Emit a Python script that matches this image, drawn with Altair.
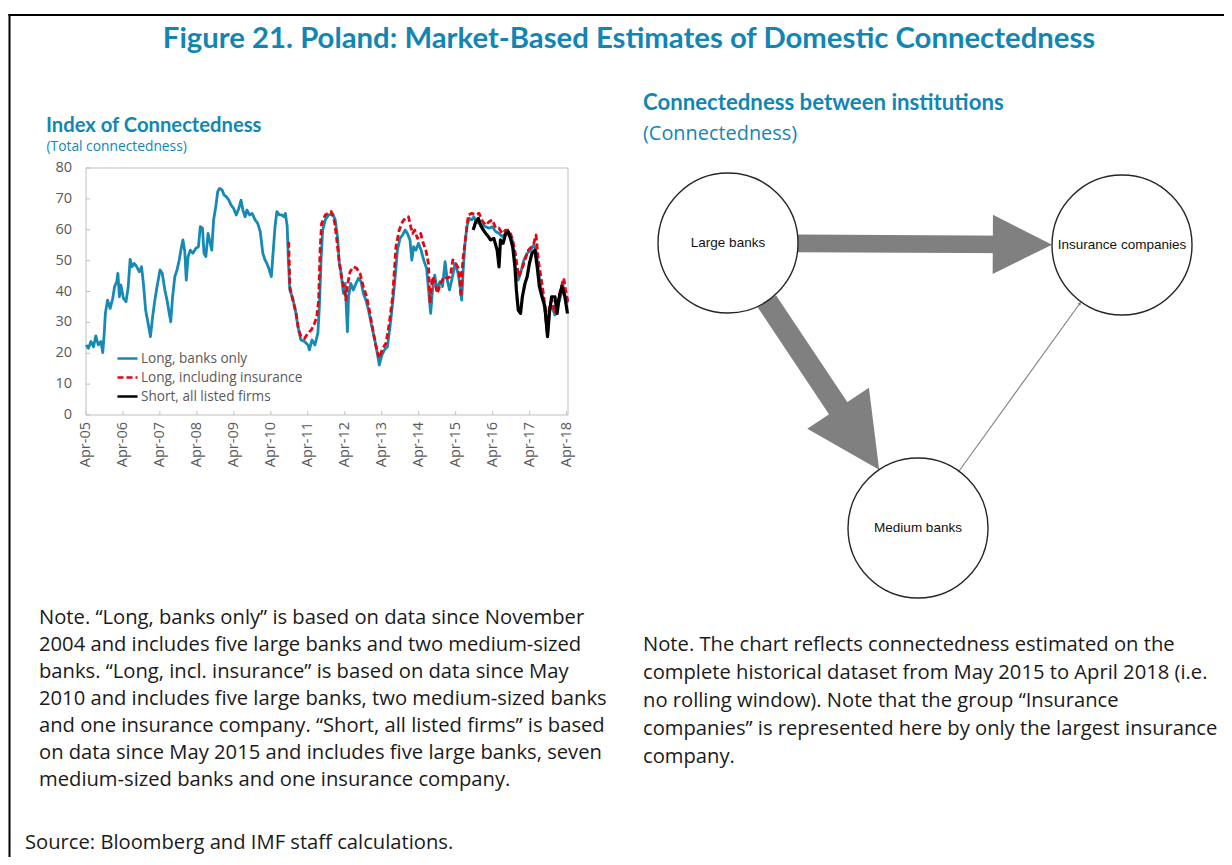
import math
import altair as alt
import pandas as pd

# ---------------- data ----------------
series_names = ["Long, banks only", "Long, including insurance", "Short, all listed firms"]

blue_t = [2005.25, 2005.31, 2005.38, 2005.45, 2005.51, 2005.58, 2005.65, 2005.70, 2005.74, 2005.77,
          2005.83, 2005.90, 2005.97, 2006.02, 2006.08, 2006.11, 2006.15, 2006.19, 2006.26, 2006.33,
          2006.39, 2006.44, 2006.49, 2006.55, 2006.62, 2006.69, 2006.75, 2006.80, 2006.86, 2006.91,
          2006.96, 2006.99, 2007.05, 2007.11, 2007.17, 2007.25, 2007.31, 2007.38, 2007.44, 2007.50,
          2007.54, 2007.59, 2007.65, 2007.71, 2007.77, 2007.83, 2007.87, 2007.92, 2007.96, 2008.01,
          2008.07, 2008.14, 2008.22, 2008.29, 2008.34, 2008.40, 2008.44, 2008.49, 2008.55, 2008.59,
          2008.65, 2008.70, 2008.76, 2008.81, 2008.86, 2008.93, 2008.98, 2009.04, 2009.11, 2009.17,
          2009.24, 2009.31, 2009.38, 2009.44, 2009.49, 2009.55, 2009.60, 2009.67, 2009.74, 2009.82,
          2009.89, 2009.96, 2010.03, 2010.09, 2010.14, 2010.19, 2010.26, 2010.30, 2010.36, 2010.41,
          2010.48, 2010.54, 2010.60, 2010.64, 2010.69, 2010.72, 2010.76, 2010.84, 2010.91, 2010.98,
          2011.06, 2011.16, 2011.25, 2011.29, 2011.36, 2011.44, 2011.52, 2011.56, 2011.61, 2011.65,
          2011.72, 2011.81,
          2011.92, 2011.99, 2012.06, 2012.10, 2012.15, 2012.21, 2012.26, 2012.32, 2012.35, 2012.41,
          2012.48, 2012.55, 2012.62, 2012.69, 2012.75, 2012.82, 2012.89, 2012.96, 2013.04, 2013.11,
          2013.18, 2013.25, 2013.32, 2013.40, 2013.47, 2013.54, 2013.61, 2013.67, 2013.74, 2013.81,
          2013.88, 2013.94, 2014.01, 2014.06, 2014.11, 2014.17, 2014.24, 2014.31, 2014.38, 2014.46,
          2014.53, 2014.57, 2014.62, 2014.68, 2014.74, 2014.82, 2014.89, 2014.96, 2015.02, 2015.08,
          2015.16, 2015.23, 2015.30, 2015.35, 2015.41, 2015.45, 2015.50, 2015.55, 2015.61, 2015.68,
          2015.74, 2015.80, 2015.88, 2015.97, 2016.06, 2016.15, 2016.24, 2016.33, 2016.42, 2016.51,
          2016.60, 2016.69, 2016.78, 2016.86, 2016.94, 2017.00, 2017.09, 2017.18, 2017.27, 2017.36,
          2017.42, 2017.49, 2017.58, 2017.66, 2017.73, 2017.78, 2017.85, 2017.93, 2018.00, 2018.08,
          2018.14, 2018.20, 2018.26]
blue_v = [22.7, 21.6, 23.8, 22.1, 25.6, 22.7, 23.8, 20.2, 26.5, 32.9,
          37.2, 34.5, 37.8, 41.6, 43.2, 45.9, 38.3, 42.1, 37.8, 36.7,
          41.6, 50.4, 48.0, 49.1, 48.0, 46.4, 48.0, 42.6, 34.0, 30.8,
          27.5, 25.4, 31.8, 37.2, 41.6, 47.0, 45.9, 40.5, 37.2, 32.9,
          30.2, 38.3, 44.8, 47.0, 50.2, 54.5, 56.7, 52.9, 43.7, 51.3,
          53.4, 52.4, 54.0, 54.5, 61.0, 60.5, 52.4, 51.3, 58.8, 56.7,
          53.4, 63.2, 67.5, 72.3, 73.4, 72.9, 71.3, 70.7, 69.6, 68.0,
          66.9, 64.8, 66.9, 69.6, 66.4, 64.2, 66.4, 64.8, 65.3, 63.2,
          62.1, 59.4, 52.4, 50.2, 49.1, 47.5, 44.8, 51.3, 61.0, 65.9,
          64.8, 64.8, 64.2, 65.3, 61.0, 50.2, 40.5, 37.8, 34.0, 28.6,
          24.3, 23.8, 22.7, 21.1, 24.3, 22.7, 26.5, 35.1, 51.3, 59.9,
          63.2, 64.8,
          65.1, 63.2, 56.7, 49.1, 45.9, 39.4, 42.6, 27.0, 38.3, 42.6,
          40.5, 42.6, 44.3, 43.2, 39.4, 37.2, 34.0, 29.7, 25.4, 21.1,
          16.2, 19.4, 21.1, 22.1, 28.6, 36.2, 44.8, 53.4, 57.2, 58.3,
          59.9, 58.8, 56.7, 50.2, 54.5, 53.4, 55.6, 53.4, 50.2, 47.5,
          38.3, 32.9, 40.5, 45.3, 40.5, 43.2, 41.6, 49.7, 43.7, 40.5,
          44.8, 49.1, 46.4, 43.2, 37.2, 47.0, 55.6, 61.0, 63.7, 63.2,
          64.2, 62.6, 62.1, 61.5, 61.0, 60.5, 61.0, 59.4, 58.8, 57.8,
          58.8, 58.3, 56.7, 48.0, 43.7, 45.9, 50.2, 52.4, 53.4, 55.1,
          53.4, 45.9, 39.4, 34.0, 25.4, 34.0, 35.1, 32.4, 35.1, 38.3,
          42.6, 38.9, 36.2]

red_t = [2010.73, 2010.76, 2010.84, 2010.93, 2011.00, 2011.06, 2011.16, 2011.25, 2011.34, 2011.43,
         2011.49, 2011.54, 2011.58, 2011.62, 2011.72, 2011.88, 2011.97, 2012.03, 2012.08, 2012.17,
         2012.24, 2012.28, 2012.32, 2012.39, 2012.48, 2012.57, 2012.66, 2012.75, 2012.84, 2012.93,
         2013.02, 2013.11, 2013.18, 2013.27, 2013.36, 2013.45, 2013.54, 2013.63, 2013.72, 2013.81,
         2013.88, 2013.97, 2014.03, 2014.08, 2014.14, 2014.21, 2014.30, 2014.37, 2014.44, 2014.51,
         2014.55, 2014.62, 2014.68, 2014.75, 2014.84, 2014.93, 2015.02, 2015.10, 2015.17, 2015.25,
         2015.34, 2015.39, 2015.44, 2015.52, 2015.59, 2015.68, 2015.79, 2015.88, 2015.98, 2016.06,
         2016.15, 2016.24, 2016.33, 2016.42, 2016.51, 2016.60, 2016.69, 2016.78, 2016.86, 2016.95,
         2017.03, 2017.12, 2017.21, 2017.30, 2017.36, 2017.42, 2017.48, 2017.55, 2017.63, 2017.72,
         2017.78, 2017.85, 2017.93, 2018.00, 2018.08, 2018.17, 2018.22, 2018.28]
red_v = [56.1, 41.6, 37.2, 32.9, 27.5, 25.5, 24.8, 26.5, 27.5, 29.7,
         31.8, 37.2, 53.4, 62.0, 64.8, 65.9, 62.6, 57.0, 51.3, 43.7,
         40.5, 37.2, 42.0, 46.4, 48.0, 47.5, 45.9, 41.6, 38.3, 32.9,
         26.5, 21.1, 18.4, 21.6, 23.2, 29.7, 38.3, 54.5, 59.9, 62.6,
         63.7, 64.2, 61.0, 58.8, 59.9, 57.2, 58.8, 55.6, 53.4, 49.1,
         36.2, 44.8, 43.2, 39.4, 42.6, 44.8, 44.3, 44.8, 50.2, 49.1,
         47.0, 38.3, 50.2, 57.8, 64.8, 65.3, 64.8, 65.3, 62.6, 61.5,
         62.6, 63.2, 60.5, 60.5, 58.8, 59.9, 59.9, 57.2, 52.4, 44.8,
         47.0, 50.2, 53.4, 54.5, 55.6, 58.3, 50.2, 44.8, 38.3, 27.0,
         35.1, 37.2, 32.9, 36.2, 40.5, 44.3, 40.5, 36.7]

black_t = [2015.72, 2015.79, 2015.86, 2015.92, 2015.99, 2016.06, 2016.13, 2016.19, 2016.28, 2016.37,
           2016.42, 2016.46, 2016.53, 2016.60, 2016.67, 2016.73, 2016.79, 2016.85, 2016.89, 2016.94,
           2017.00, 2017.05, 2017.12, 2017.18, 2017.24, 2017.31, 2017.39, 2017.45, 2017.51, 2017.58,
           2017.66, 2017.73, 2017.78, 2017.84, 2017.93, 2017.99, 2018.05, 2018.12, 2018.20, 2018.27]
black_v = [59.9, 62.6, 63.7, 61.5, 60.0, 58.8, 57.8, 56.7, 57.2, 53.4,
           48.0, 56.7, 55.6, 58.8, 59.4, 57.2, 54.5, 48.0, 40.5, 34.0,
           32.9, 38.3, 42.6, 44.8, 49.1, 52.4, 53.4, 48.0, 41.6, 38.3,
           35.1, 25.4, 32.9, 38.3, 38.3, 32.9, 38.3, 41.6, 38.3, 32.9]

y_tick_values = [0, 10, 20, 30, 40, 50, 60, 70, 80]
x_tick_years = [2005, 2006, 2007, 2008, 2009, 2010, 2011, 2012, 2013, 2014, 2015, 2016, 2017, 2018]

node_names = ["Large banks", "Insurance companies", "Medium banks"]
node_x = [0, 394, 190]
node_y = [0, 2, 285]
edge_from = ["Large banks", "Large banks", "Medium banks"]
edge_to = ["Insurance companies", "Medium banks", "Insurance companies"]
edge_weight = [0.8, 1.0, 0.05]

fig_title = "Figure 21. Poland: Market-Based Estimates of Domestic Connectedness"
left_title = "Index of Connectedness"
left_subtitle = "(Total connectedness)"
right_title = "Connectedness between institutions"
right_subtitle = "(Connectedness)"
left_note = [
    "Note. \u201cLong, banks only\u201d is based on data since November",
    "2004 and includes five large banks and two medium-sized",
    "banks. \u201cLong, incl. insurance\u201d is based on data since May",
    "2010 and includes five large banks, two medium-sized banks",
    "and one insurance company. \u201cShort, all listed firms\u201d is based",
    "on data since May 2015 and includes five large banks, seven",
    "medium-sized banks and one insurance company.",
]
right_note = [
    "Note. The chart reflects connectedness estimated on the",
    "complete historical dataset from May 2015 to April 2018 (i.e.",
    "no rolling window). Note that the group \u201cInsurance",
    "companies\u201d is represented here by only the largest insurance",
    "company.",
]
source_text = "Source: Bloomberg and IMF staff calculations."

# ---------------- styles / layout ----------------
W, H = 1216, 849
TITLE_BLUE = "#1186B5"
LINE_BLUE = "#1689B4"
RED = "#E30613"
GRAY_TXT = "#595959"
AXIS_GRAY = "#BFBFBF"
TXT = "#1A1A1A"
HEAD_FONT = "Lato"
BODY_FONT = "Open Sans"
BODY_SIZE = 20.2
TICK_SIZE = 14.5

NODE_R = 70
HEAD_PX = 74
SHAFT_PX = 22


def to_iso(t):
    y = int(t)
    d = (t - y) * 365.25
    return (pd.Timestamp(year=y, month=1, day=1) + pd.Timedelta(days=d)).strftime("%Y-%m-%dT%H:%M:%S")


rows = []
for name, ts, vs in [(series_names[0], blue_t, blue_v),
                     (series_names[1], red_t, red_v),
                     (series_names[2], black_t, black_v)]:
    for t, v in zip(ts, vs):
        rows.append({"date": to_iso(t), "value": v, "series": name})
ts_df = pd.DataFrame(rows)

X0 = "2005-04-01T00:00:00"
X1 = "2018-04-15T00:00:00"
x_scale = alt.Scale(domain=[alt.DateTime(year=2005, month=4, date=1),
                            alt.DateTime(year=2018, month=4, date=15)], range=[78, 560])
y_scale = alt.Scale(domain=[0, 80], range=[407, 160], nice=False, zero=False)

legend = alt.Legend(orient="none", legendX=108, legendY=339, title=None, symbolType="stroke",
                    symbolSize=400, symbolStrokeWidth=2.6, labelFont=BODY_FONT, labelFontSize=13.6,
                    labelColor=GRAY_TXT, labelOffset=2, labelLimit=400, rowPadding=0, padding=0)
color_scale = alt.Scale(domain=series_names, range=[LINE_BLUE, RED, "#000000"])
dash_scale = alt.Scale(domain=series_names, range=[[1, 0], [6, 3], [1, 0]])


def ts_line(name, width):
    return alt.Chart(ts_df).transform_filter(alt.datum.series == name).mark_line(
        strokeWidth=width, strokeJoin="round").encode(
        x=alt.X("date:T", scale=x_scale, axis=None),
        y=alt.Y("value:Q", scale=y_scale, axis=None),
        color=alt.Color("series:N", scale=color_scale, legend=legend),
        strokeDash=alt.StrokeDash("series:N", scale=dash_scale, legend=legend),
    )


box_df = pd.DataFrame({"x0": [X0], "x1": [X1], "y0": [0], "y1": [80]})
box = alt.Chart(box_df).mark_rect(fillOpacity=0, stroke=AXIS_GRAY, strokeWidth=1).encode(
    x=alt.X("x0:T", scale=x_scale, axis=None), x2="x1:T",
    y=alt.Y("y0:Q", scale=y_scale, axis=None), y2="y1:Q")

ytick_df = pd.DataFrame({"v": y_tick_values, "d": [X0] * len(y_tick_values)})
yticks = alt.Chart(ytick_df).mark_tick(orient="horizontal", size=4, thickness=1, xOffset=2,
                                       color=AXIS_GRAY, opacity=1).encode(
    x=alt.X("d:T", scale=x_scale, axis=None), y=alt.Y("v:Q", scale=y_scale, axis=None))
ylabels = alt.Chart(ytick_df).mark_text(align="right", baseline="middle", xOffset=-14,
                                        font=BODY_FONT, fontSize=TICK_SIZE, color=GRAY_TXT).encode(
    x=alt.X("d:T", scale=x_scale, axis=None), y=alt.Y("v:Q", scale=y_scale, axis=None),
    text=alt.Text("v:Q"))

xtick_df = pd.DataFrame({"d": ["%d-04-01T00:00:00" % y for y in x_tick_years],
                         "v": [0] * len(x_tick_years)})
xticks = alt.Chart(xtick_df).mark_tick(orient="vertical", size=4, thickness=1, yOffset=-2,
                                       color=AXIS_GRAY, opacity=1).encode(
    x=alt.X("d:T", scale=x_scale, axis=None), y=alt.Y("v:Q", scale=y_scale, axis=None))
xlabels = alt.Chart(xtick_df).mark_text(angle=270, align="right", baseline="middle", yOffset=7,
                                        font=BODY_FONT, fontSize=TICK_SIZE, color=GRAY_TXT).encode(
    x=alt.X("d:T", scale=x_scale, axis=None), y=alt.Y("v:Q", scale=y_scale, axis=None),
    text=alt.Text("d:T", format="%b-%y"))

ts_layer = alt.layer(box, yticks, xticks, ylabels, xlabels,
                     ts_line(series_names[0], 2.8),
                     ts_line(series_names[1], 2.8),
                     ts_line(series_names[2], 3.2))

# ---------------- network ----------------
pos = {n: (x, y) for n, x, y in zip(node_names, node_x, node_y)}
erows = []
for f, t, w in zip(edge_from, edge_to, edge_weight):
    (x1, y1), (x2, y2) = pos[f], pos[t]
    d = math.hypot(x2 - x1, y2 - y1)
    ux, uy = (x2 - x1) / d, (y2 - y1) / d
    sx, sy = x1 + NODE_R * ux, y1 + NODE_R * uy
    tx, ty = x2 - NODE_R * ux, y2 - NODE_R * uy
    L = HEAD_PX * w
    hx, hy = tx - L / 2 * ux, ty - L / 2 * uy
    ang = (math.degrees(math.atan2(ux, -uy)) + 360) % 360
    erows.append({"sx": sx, "sy": sy, "hx": hx, "hy": hy, "angle": ang, "weight": w})
edges_df = pd.DataFrame(erows)
nodes_df = pd.DataFrame({"name": node_names, "nx": node_x, "ny": node_y})

net_x = alt.Scale(domain=[min(node_x), max(node_x)], range=[720, 1114])
net_y = alt.Scale(domain=[min(node_y), max(node_y)], range=[235, 520])

shafts = alt.Chart(edges_df).mark_rule(color="#808080", strokeCap="butt").encode(
    x=alt.X("sx:Q", scale=net_x, axis=None), y=alt.Y("sy:Q", scale=net_y, axis=None),
    x2="hx:Q", y2="hy:Q",
    strokeWidth=alt.StrokeWidth("weight:Q", scale=alt.Scale(domain=[0, 1], range=[0, SHAFT_PX]),
                                legend=None))
heads = alt.Chart(edges_df).mark_point(shape="M0,-1L1,1L-1,1Z", filled=True, color="#808080",
                                       opacity=1).encode(
    x=alt.X("hx:Q", scale=net_x, axis=None), y=alt.Y("hy:Q", scale=net_y, axis=None),
    angle=alt.Angle("angle:Q", scale=None),
    size=alt.Size("weight:Q", scale=alt.Scale(type="pow", exponent=2, domain=[0, 1],
                                              range=[0, HEAD_PX ** 2]), legend=None))
circles = alt.Chart(nodes_df).mark_point(shape="circle", filled=False, fill="white", fillOpacity=1,
                                         stroke="#262626", strokeWidth=1.4, opacity=1,
                                         size=(2 * NODE_R) ** 2).encode(
    x=alt.X("nx:Q", scale=net_x, axis=None), y=alt.Y("ny:Q", scale=net_y, axis=None))
labels = alt.Chart(nodes_df).mark_text(font="Liberation Sans", fontSize=13.5, color="#111111",
                                       baseline="middle", align="center").encode(
    x=alt.X("nx:Q", scale=net_x, axis=None), y=alt.Y("ny:Q", scale=net_y, axis=None),
    text="name:N")
net_layer = alt.layer(shafts, heads, circles, labels)

# ---------------- texts and frame ----------------
one = pd.DataFrame({"k": [0]})


def txt(text, x, y, size, font=BODY_FONT, weight="normal", color=TXT, align="left", lh=None):
    kw = dict(font=font, fontSize=size, fontWeight=weight, color=color, align=align,
              baseline="alphabetic")
    if lh is not None:
        kw["lineBreak"] = "\n"
        kw["lineHeight"] = lh
    return alt.Chart(one).mark_text(**kw).encode(x=alt.value(x), y=alt.value(y), text=alt.value(text))


frame_top = alt.Chart(one).mark_rule(color="black", strokeWidth=2).encode(
    x=alt.value(0.5), x2=alt.value(W), y=alt.value(7))
frame_left = alt.Chart(one).mark_rule(color="black", strokeWidth=2).encode(
    x=alt.value(1.5), y=alt.value(6), y2=alt.value(H))

texts = [
    txt(fig_title, 621, 40, 29.3, HEAD_FONT, "bold", TITLE_BLUE, "center"),
    txt(left_title, 38, 123.5, 20.2, HEAD_FONT, "bold", TITLE_BLUE),
    txt(left_subtitle, 38.5, 142.5, 13.8, BODY_FONT, "normal", TITLE_BLUE),
    txt(right_title, 635, 102, 22.2, HEAD_FONT, "bold", TITLE_BLUE),
    txt(right_subtitle, 635, 132, 19.9, BODY_FONT, "normal", TITLE_BLUE),
    txt("\n".join(left_note), 31, 616, BODY_SIZE, lh=27),
    txt("\n".join(right_note), 635, 643, BODY_SIZE, lh=28),
    txt(source_text, 17, 841, BODY_SIZE),
]

chart = alt.layer(frame_top, frame_left, *texts, ts_layer, net_layer).resolve_scale(
    x="independent", y="independent").properties(
    width=W, height=H, padding=0, autosize=alt.AutoSizeParams(type="none")).configure(
    background="white").configure_view(strokeWidth=0)

chart.save("out.html", embed_options={"renderer": "svg", "actions": False})
